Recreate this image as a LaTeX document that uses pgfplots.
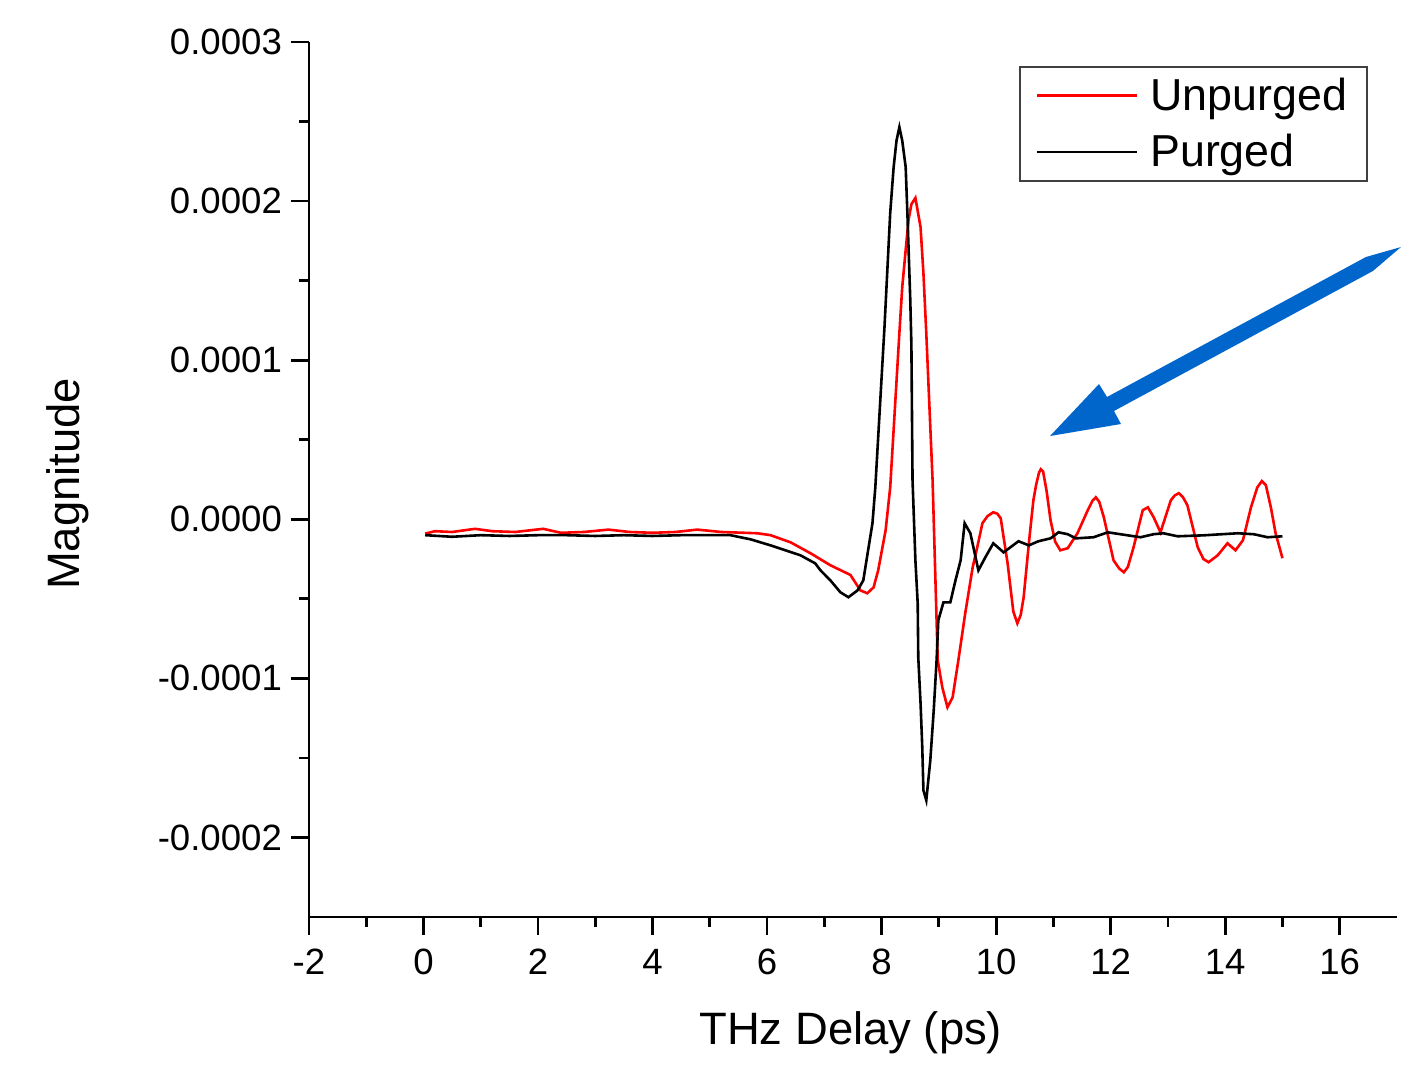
\documentclass[border=0pt]{standalone}
\usepackage{pgfplots}
\pgfplotsset{compat=1.18}
\usepackage{fontspec}
\setmainfont{Liberation Sans}
\definecolor{arrowblue}{RGB}{0,102,204}
\begin{document}
\begin{tikzpicture}
\begin{axis}[
  width=544pt, height=437.5pt, scale only axis,
  xmin=-2, xmax=17, ymin=-2.5, ymax=3,
  axis lines=left, axis line style={-, line width=1.4pt},
  clip=false,
  xtick={-2,0,2,4,6,8,10,12,14,16},
  xticklabels={-2,0,2,4,6,8,10,12,14,16},
  minor x tick num=1,
  ytick={-2,-1,0,1,2,3},
  yticklabels={-0.0002,-0.0001,0.0000,0.0001,0.0002,0.0003},
  minor y tick num=1,
  tick align=outside,
  major tick length=9pt, minor tick length=5pt,
  every tick/.style={line width=1.4pt, black},
  tick label style={font=\fontsize{18.3}{22}\selectfont},
  xticklabel style={yshift=-3.5pt},
  yticklabel style={xshift=-1pt},
  xlabel={THz Delay (ps)},
  ylabel={Magnitude},
  label style={font=\fontsize{22.7}{27}\selectfont},
  xlabel style={at={(rel axis cs:0.498,-0.1326)}, anchor=center},
  ylabel style={at={(rel axis cs:-0.2215,0.4949)}, anchor=center, rotate=0},
  legend style={at={(rel axis cs:0.6526,0.9726)}, anchor=north west,
    draw=black!75, line width=0.8pt, font=\fontsize{22.4}{27.5}\selectfont,
    inner xsep=8pt, inner ysep=3.5pt, row sep=6.5pt,
    /tikz/every odd column/.append style={column sep=4pt}},
  legend cell align=left,
  legend image code/.code={\draw[#1, line width=1.2pt] (0pt,0pt) -- (50pt,0pt);},
]
\addplot[red, line width=1.3pt] coordinates {
(0.03,-0.09) (0.2,-0.075) (0.5,-0.08) (0.9,-0.06) (1.2,-0.075) (1.6,-0.08)
(2.09,-0.06) (2.4,-0.085) (2.8,-0.08) (3.23,-0.065) (3.6,-0.08) (4.0,-0.085)
(4.4,-0.08) (4.78,-0.065) (5.2,-0.08) (5.6,-0.085) (5.83,-0.088) (6.06,-0.10)
(6.41,-0.145) (6.76,-0.214) (7.105,-0.289) (7.455,-0.35) (7.63,-0.447)
(7.75,-0.465) (7.86,-0.428) (7.94,-0.321) (8.07,-0.069) (8.15,0.201)
(8.31,1.17) (8.36,1.459) (8.42,1.692) (8.47,1.881) (8.52,1.98) (8.59,2.02)
(8.68,1.836) (8.73,1.547) (8.78,1.17) (8.89,0.245) (8.94,-0.384) (8.98,-0.887)
(9.06,-1.057) (9.15,-1.182) (9.24,-1.119) (9.34,-0.887) (9.46,-0.591)
(9.59,-0.302) (9.67,-0.176) (9.76,-0.025) (9.85,0.02) (9.95,0.044) (10.02,0.035)
(10.08,0.006) (10.20,-0.277) (10.30,-0.58) (10.37,-0.654) (10.43,-0.6)
(10.48,-0.491) (10.58,-0.12) (10.65,0.119) (10.70,0.22) (10.75,0.295)
(10.78,0.314) (10.82,0.3) (10.88,0.18) (10.95,-0.006) (11.03,-0.14)
(11.12,-0.195) (11.25,-0.182) (11.42,-0.088) (11.60,0.057) (11.68,0.115)
(11.74,0.138) (11.80,0.11) (11.88,0.013) (12.05,-0.258) (12.15,-0.31)
(12.23,-0.333) (12.30,-0.3) (12.40,-0.176) (12.56,0.057) (12.65,0.075)
(12.75,0.013) (12.87,-0.082) (13.05,0.119) (13.12,0.15) (13.19,0.164)
(13.26,0.14) (13.34,0.088) (13.52,-0.176) (13.62,-0.25) (13.71,-0.27)
(13.87,-0.226) (14.04,-0.151) (14.18,-0.195) (14.31,-0.132) (14.45,0.075)
(14.56,0.2) (14.64,0.24) (14.71,0.215) (14.80,0.07) (14.88,-0.088) (15.00,-0.245)
};
\addlegendentry{Unpurged}
\addplot[black, line width=1.3pt] coordinates {
(0.03,-0.10) (0.5,-0.11) (1.0,-0.10) (1.5,-0.105) (2.0,-0.10) (2.5,-0.10)
(3.0,-0.105) (3.5,-0.10) (4.0,-0.105) (4.5,-0.10) (5.0,-0.10) (5.36,-0.10)
(5.71,-0.126) (6.06,-0.164) (6.58,-0.226) (6.84,-0.277) (6.93,-0.32)
(7.105,-0.384) (7.28,-0.459) (7.42,-0.49) (7.58,-0.447) (7.68,-0.384)
(7.84,-0.025) (7.89,0.201) (8.05,1.208) (8.10,1.566) (8.15,1.925) (8.21,2.214)
(8.26,2.38) (8.31,2.465) (8.36,2.38) (8.42,2.214) (8.45,1.925) (8.50,1.384)
(8.52,1.0956) (8.54,0.245) (8.59,-0.258) (8.63,-0.528) (8.64,-0.868)
(8.68,-1.157) (8.71,-1.434) (8.73,-1.704) (8.78,-1.767) (8.85,-1.516)
(8.91,-1.201) (8.96,-0.887) (8.99,-0.635) (9.08,-0.522) (9.20,-0.522)
(9.29,-0.384) (9.38,-0.258) (9.45,-0.025) (9.55,-0.088) (9.69,-0.321)
(9.81,-0.24) (9.95,-0.151) (10.13,-0.208) (10.25,-0.176) (10.39,-0.138)
(10.57,-0.164) (10.74,-0.138) (10.95,-0.12) (11.09,-0.082) (11.25,-0.094)
(11.39,-0.12) (11.70,-0.113) (11.95,-0.082) (12.17,-0.094) (12.52,-0.113)
(12.75,-0.094) (12.92,-0.088) (13.17,-0.107) (13.62,-0.101) (14.22,-0.088)
(14.50,-0.094) (14.74,-0.113) (15.00,-0.107)
};
\addlegendentry{Purged}
\fill[arrowblue] (rel axis cs:0.6811,0.5497) -- (rel axis cs:0.7463,0.5634)
  -- (rel axis cs:0.7399,0.5783) -- (rel axis cs:0.9779,0.7383)
  -- (rel axis cs:1.0037,0.7657) -- (rel axis cs:0.9715,0.7543)
  -- (rel axis cs:0.7335,0.5943) -- (rel axis cs:0.7261,0.6091) -- cycle;
\path (rel axis cs:-0.284,-0.1703) rectangle (rel axis cs:1.0037,1.048);
\end{axis}
\end{tikzpicture}
\end{document}
